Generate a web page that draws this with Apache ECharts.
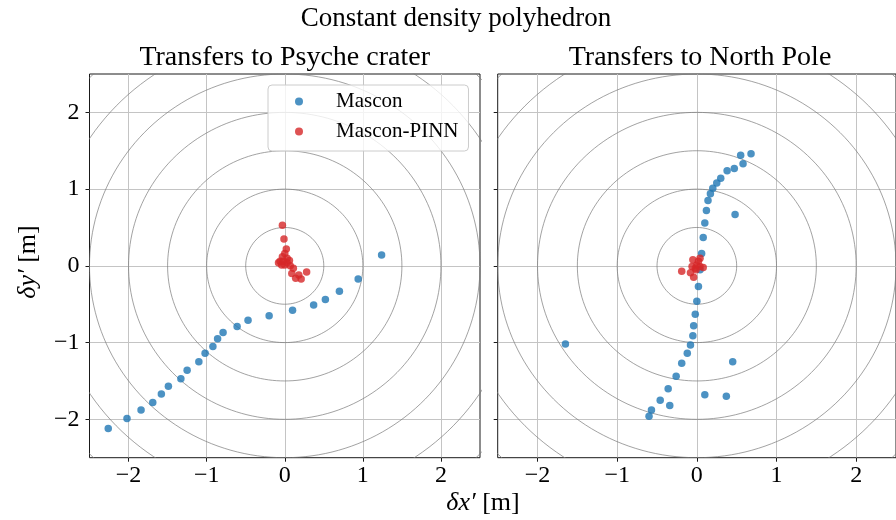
<!DOCTYPE html>
<html><head><meta charset="utf-8">
<script src="https://cdn.jsdelivr.net/npm/echarts@6/dist/echarts.min.js"></script>
<style>html,body{margin:0;padding:0;background:#fff}#c{width:896px;height:520px}</style>
</head><body><div id="c"></div>
<script>
const tickValues = [-2, -1, 0, 1, 2];
const ringRadii = [0.5, 1, 1.5, 2, 2.5, 3, 3.5];
const panelTitles = ['Transfers to Psyche crater', 'Transfers to North Pole'];
const seriesNames = ['Mascon', 'Mascon-PINN'];

const psycheMascon = [
  [-2.26,-2.12],[-2.02,-1.99],[-1.84,-1.88],[-1.69,-1.78],[-1.58,-1.67],[-1.49,-1.57],
  [-1.33,-1.47],[-1.25,-1.36],[-1.10,-1.25],[-1.02,-1.14],[-0.92,-1.05],[-0.86,-0.95],
  [-0.79,-0.87],[-0.61,-0.79],[-0.47,-0.71],[-0.20,-0.65],[0.10,-0.58],[0.37,-0.51],
  [0.52,-0.44],[0.70,-0.33],[0.94,-0.17],[1.24,0.14]
];
const psychePinn = [
  [-0.03,0.53],[-0.01,0.35],[0.02,0.22],[0.00,0.16],[-0.03,0.12],[-0.06,0.06],[-0.08,0.04],
  [-0.02,0.06],[0.03,0.04],[0.06,0.07],[0.00,0.01],[0.07,0.00],[0.11,-0.03],[0.09,-0.10],
  [0.14,-0.16],[0.18,-0.12],[0.21,-0.17],[0.28,-0.08],[-0.04,0.01],[0.03,0.10]
];
const poleMascon = [
  [0.68,1.46],[0.55,1.44],[0.58,1.33],[0.47,1.27],[0.38,1.24],[0.30,1.14],[0.25,1.08],
  [0.20,1.01],[0.17,0.94],[0.14,0.85],[0.12,0.72],[0.48,0.67],[0.10,0.56],[0.08,0.37],
  [0.06,0.16],[0.04,-0.05],[0.02,-0.27],[0.00,-0.46],[-0.02,-0.63],[-0.04,-0.78],
  [-0.05,-0.91],[-0.08,-1.03],[-0.12,-1.14],[-0.19,-1.27],[-0.26,-1.44],[-0.36,-1.60],
  [-0.46,-1.75],[-0.34,-1.82],[-0.57,-1.88],[-0.60,-1.96],[-1.65,-1.02],[0.45,-1.25],
  [0.10,-1.68],[0.37,-1.70]
];
const polePinn = [
  [-0.19,-0.07],[-0.08,-0.09],[-0.04,-0.15],[-0.05,0.08],[0.04,0.10],[0.08,-0.02],
  [0.00,0.01],[-0.02,-0.03],[0.02,0.06],[-0.06,-0.01],[0.04,-0.01],[-0.01,-0.05]
];

const F = "'Liberation Serif', 'DejaVu Serif', serif";
const BLUE = '#1f77b4', RED = '#d62728';

function ring(r) {
  const pts = [];
  for (let a = 0; a <= 360; a += 2) {
    const t = a * Math.PI / 180;
    pts.push([r * Math.cos(t), r * Math.sin(t)]);
  }
  return pts;
}

const grids = [
  { left: 89.5, top: 74, width: 390.5, height: 383.7 },
  { left: 497.7, top: 74, width: 404, height: 383.7 }
].map(g => Object.assign(g, { show: true, borderColor: '#1a1a1a', borderWidth: 1, backgroundColor: 'transparent' }));

function xAxis(gi) {
  return {
    type: 'value', gridIndex: gi, min: -2.5, max: 2.5,
    axisLine: { show: false, onZero: false },
    axisTick: { show: true, length: 4, customValues: tickValues, lineStyle: { color: '#1a1a1a', width: 1 } },
    axisLabel: { customValues: tickValues, fontSize: 24, fontFamily: F, color: '#000', margin: 6,
      formatter: v => String(v).replace('-', '\u2212') },
    splitLine: { show: true, lineStyle: { color: '#c4c4c4', width: 1 } }
  };
}
function yAxis(gi, labels) {
  return {
    type: 'value', gridIndex: gi, min: -2.5, max: 2.5,
    axisLine: { show: false, onZero: false },
    axisTick: { show: true, length: 4, customValues: tickValues, lineStyle: { color: '#1a1a1a', width: 1 } },
    axisLabel: { show: labels, customValues: tickValues, fontSize: 24, fontFamily: F, color: '#000', margin: 10,
      formatter: v => String(v).replace('-', '\u2212') },
    splitLine: { show: true, lineStyle: { color: '#c4c4c4', width: 1 } }
  };
}

const series = [];
[0, 1].forEach(gi => {
  ringRadii.forEach(r => series.push({
    type: 'line', xAxisIndex: gi, yAxisIndex: gi, data: ring(r), showSymbol: false, silent: true,
    lineStyle: { color: '#7a7a7a', width: 0.7 }, z: 1, animation: false
  }));
});
const sets = [[psycheMascon, psychePinn], [poleMascon, polePinn]];
[0, 1].forEach(gi => {
  series.push({ type: 'scatter', name: seriesNames[0], xAxisIndex: gi, yAxisIndex: gi, data: sets[gi][0],
    symbolSize: 7.5, itemStyle: { color: BLUE, opacity: 0.8 }, z: 3 });
  series.push({ type: 'scatter', name: seriesNames[1], xAxisIndex: gi, yAxisIndex: gi, data: sets[gi][1],
    symbolSize: 7.5, itemStyle: { color: RED, opacity: 0.8 }, z: 4 });
});

const chart = echarts.init(document.getElementById('c'), null, { renderer: 'canvas' });
chart.setOption({
  animation: false,
  backgroundColor: '#fff',
  grid: grids,
  xAxis: [xAxis(0), xAxis(1)],
  yAxis: [yAxis(0, true), yAxis(1, false)],
  legend: {
    data: seriesNames, orient: 'vertical', left: 268, top: 85,
    padding: [6, 10, 9, 27], itemWidth: 14, itemHeight: 8, itemGap: 9, icon: 'circle',
    backgroundColor: 'rgba(255,255,255,0.8)', borderColor: '#cccccc', borderWidth: 1, borderRadius: 4,
    textStyle: { fontSize: 21, fontFamily: F, color: '#000', padding: [0, 0, 0, 25] }
  },
  graphic: [
    { type: 'text', x: 456, y: 19, style: { text: 'Constant density polyhedron', fontSize: 27, fontFamily: F, fill: '#000', align: 'center', verticalAlign: 'middle' } },
    { type: 'text', x: 284.7, y: 58, style: { text: panelTitles[0], fontSize: 28, fontFamily: F, fill: '#000', align: 'center', verticalAlign: 'middle' } },
    { type: 'text', x: 700, y: 58, style: { text: panelTitles[1], fontSize: 28, fontFamily: F, fill: '#000', align: 'center', verticalAlign: 'middle' } },
    { type: 'text', x: 483, y: 503, style: { text: '{i|\u03b4x\u2032}{n|\u00a0[m]}', align: 'center', verticalAlign: 'middle', fill: '#000',
      rich: { i: { fontSize: 26, fontFamily: F, fontStyle: 'italic' }, n: { fontSize: 26, fontFamily: F } } } },
    { type: 'text', x: 28, y: 262, rotation: Math.PI / 2, style: { text: '{i|\u03b4y\u2032}{n|\u00a0[m]}', align: 'center', verticalAlign: 'middle', fill: '#000',
      rich: { i: { fontSize: 26, fontFamily: F, fontStyle: 'italic' }, n: { fontSize: 26, fontFamily: F } } } }
  ],
  series: series
});
</script></body></html>
